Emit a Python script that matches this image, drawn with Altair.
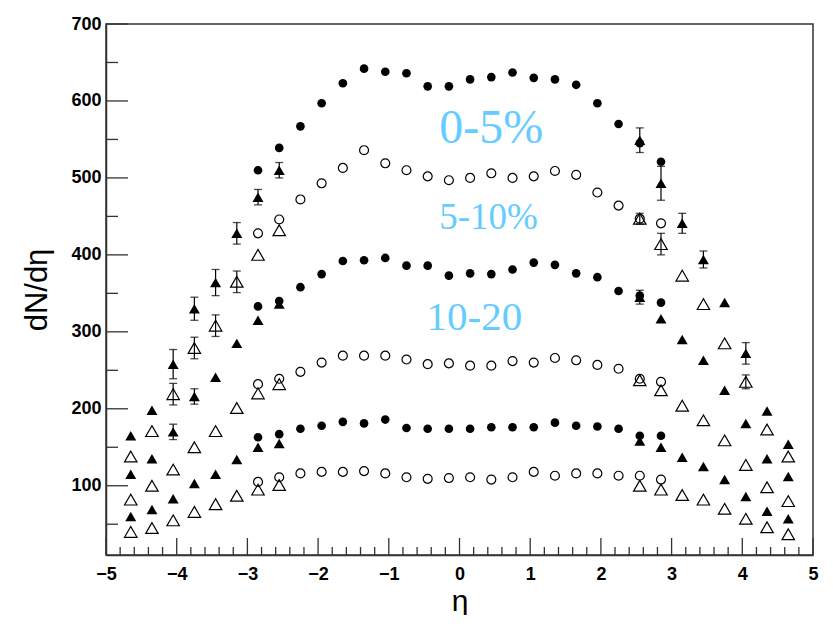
import altair as alt
import pandas as pd

# ---- data ----
eta_mid = [-2.85, -2.55, -2.25, -1.95, -1.65, -1.35, -1.05, -0.75, -0.45, -0.15,
           0.15, 0.45, 0.75, 1.05, 1.35, 1.65, 1.95, 2.25, 2.55, 2.85]
c0_5 = [510, 539, 567, 597, 623, 642, 638, 636, 619, 619, 628, 631, 637, 630, 628, 621, 597, 570, 545, 521]
c5_10 = [428, 446, 472, 493, 513, 536, 519, 510, 502, 497, 500, 506, 500, 502, 509, 504, 481, 464, 447, 441]
c10_20 = [333, 340, 358, 375, 392, 393, 396, 386, 386, 373, 376, 375, 381, 390, 387, 376, 371, 353, 347, 338]
c20_30 = [232, 239, 248, 260, 269, 269, 269, 264, 258, 259, 256, 256, 262, 260, 266, 263, 257, 252, 239, 235]
c30_40 = [163, 167, 174, 178, 183, 181, 186, 175, 174, 174, 174, 176, 176, 176, 182, 178, 177, 174, 165, 165]
c40_50 = [105, 111, 116, 118, 118, 119, 116, 111, 109, 110, 111, 108, 111, 118, 113, 116, 116, 113, 113, 108]

eta_fwd = [-4.65, -4.35, -4.05, -3.75, -3.45, -3.15, -2.85, -2.55,
           2.55, 2.85, 3.15, 3.45, 3.75, 4.05, 4.35, 4.65]
t0_5 = [165, 198, 258, 330, 364, 428, 475, 510, 549, 493, 441, 394, 338, 272, 197, 154]
e0_5 = [0, 0, 19, 15, 17, 14, 10, 10, 16, 22, 13, 11, 0, 14, 0, 0]
t5_10 = [138, 171, 219, 279, 308, 365, 400, 432, 447, 414, 373, 336, 285, 235, 173, 138]
e5_10 = [0, 0, 14, 14, 14, 14, 0, 0, 7, 14, 0, 0, 0, 9, 0, 0]
t10_20 = [115, 135, 170, 216, 241, 285, 315, 336, 345, 317, 290, 263, 224, 181, 135, 112]
e10_20 = [0, 0, 10, 10, 0, 0, 0, 0, 9, 0, 0, 0, 0, 0, 0, 0]
t20_30 = [82, 100, 121, 150, 171, 201, 220, 232, 237, 224, 204, 185, 159, 127, 98, 80]
t30_40 = [60, 69, 83, 103, 115, 134, 150, 155, 158, 150, 137, 125, 108, 86, 67, 57]
t40_50 = [40, 45, 55, 66, 76, 87, 95, 101, 100, 95, 88, 82, 70, 57, 46, 37]

x_major = [-5, -4, -3, -2, -1, 0, 1, 2, 3, 4, 5]
x_minor = [round(-5 + 0.2 * i, 1) for i in range(51) if i % 5 != 0]
y_major = [100, 200, 300, 400, 500, 600, 700]
y_minor = [50, 150, 250, 350, 450, 550, 650]

labels = ["0-5%", "5-10%", "10-20"]

# ---- tables ----
def mid(vals, filled):
    return pd.DataFrame({"eta": eta_mid, "v": vals, "filled": filled})

def fwd(vals, errs, filled):
    return pd.DataFrame({"eta": eta_fwd, "v": vals, "err": errs, "filled": filled})

zeros = [0] * len(eta_fwd)
circ = pd.concat([mid(c0_5, 1), mid(c5_10, 0), mid(c10_20, 1),
                  mid(c20_30, 0), mid(c30_40, 1), mid(c40_50, 0)])
tri = pd.concat([fwd(t0_5, e0_5, 1), fwd(t5_10, e5_10, 0), fwd(t10_20, e10_20, 1),
                 fwd(t20_30, zeros, 0), fwd(t30_40, zeros, 1), fwd(t40_50, zeros, 0)])
tri["lo"] = tri["v"] - tri["err"]
tri["hi"] = tri["v"] + tri["err"]
errs = tri[tri["err"] > 0]

W, H = 707, 531
xs = alt.Scale(domain=[-5, 5], nice=False, zero=False)
ys = alt.Scale(domain=[10, 700], nice=False, zero=False)

X = alt.X("eta:Q", scale=xs,
          axis=alt.Axis(values=x_major, ticks=False, grid=False, format="d", labelFlush=False,
                        labelFont="Liberation Sans", labelFontWeight="bold", labelFontSize=18,
                        labelColor="black", labelPadding=10, domainColor="#333", domainWidth=1.5,
                        title="η", titleFont="Liberation Sans", titleFontWeight="normal",
                        titleFontSize=30, titleColor="black", titlePadding=3))
Y = alt.Y("v:Q", scale=ys,
          axis=alt.Axis(values=y_major, ticks=False, grid=False, format="d", labelFlush=False,
                        labelFont="Liberation Sans", labelFontWeight="bold", labelFontSize=18,
                        labelColor="black", labelPadding=5, domainColor="#333", domainWidth=1.5,
                        title="dN/dη", titleFont="Liberation Sans", titleFontWeight="normal",
                        titleFontSize=31, titleColor="black", titlePadding=17))

base_c = alt.Chart(circ)
filled_c = base_c.transform_filter("datum.filled == 1").mark_point(
    shape="circle", filled=True, color="black", size=75, opacity=1).encode(x=X, y=Y)
open_c = base_c.transform_filter("datum.filled == 0").mark_point(
    shape="circle", filled=False, color="black", size=80, strokeWidth=1.2, opacity=1).encode(x=X, y=Y)

base_t = alt.Chart(tri)
filled_t = base_t.transform_filter("datum.filled == 1").mark_point(
    shape="triangle-up", filled=True, color="black", size=120, opacity=1).encode(x=X, y=Y)
open_t = base_t.transform_filter("datum.filled == 0").mark_point(
    shape="triangle-up", filled=False, color="black", size=155, strokeWidth=1.2, opacity=1).encode(x=X, y=Y)

err_rule = alt.Chart(errs).mark_rule(color="black", strokeWidth=1.2).encode(
    x=alt.X("eta:Q", scale=xs), y=alt.Y("lo:Q", scale=ys), y2="hi:Q")
err_lo = alt.Chart(errs).mark_tick(color="black", orient="horizontal", size=8, thickness=1.3).encode(
    x=alt.X("eta:Q", scale=xs), y=alt.Y("lo:Q", scale=ys))
err_hi = alt.Chart(errs).mark_tick(color="black", orient="horizontal", size=8, thickness=1.3).encode(
    x=alt.X("eta:Q", scale=xs), y=alt.Y("hi:Q", scale=ys))

# inward axis ticks
xmaj = alt.Chart(pd.DataFrame({"t": x_major})).mark_rule(color="#333", strokeWidth=1.3).encode(
    x=alt.X("t:Q", scale=xs), y=alt.value(H), y2=alt.value(H - 17))
xmin = alt.Chart(pd.DataFrame({"t": x_minor})).mark_rule(color="#333", strokeWidth=1.3).encode(
    x=alt.X("t:Q", scale=xs), y=alt.value(H), y2=alt.value(H - 8))
ymaj = alt.Chart(pd.DataFrame({"t": y_major})).mark_rule(color="#333", strokeWidth=1.3).encode(
    y=alt.Y("t:Q", scale=ys), x=alt.value(0), x2=alt.value(22))
ymin = alt.Chart(pd.DataFrame({"t": y_minor})).mark_rule(color="#333", strokeWidth=1.3).encode(
    y=alt.Y("t:Q", scale=ys), x=alt.value(0), x2=alt.value(12))

def label(txt, eta, val, size):
    return alt.Chart(pd.DataFrame({"a": [0]})).mark_text(
        text=txt, font="Liberation Serif, Times New Roman, serif", fontSize=size, color="#66CCFF",
        align="center", baseline="alphabetic").encode(x=alt.datum(eta, scale=xs), y=alt.datum(val, scale=ys))

t1 = label(labels[0], 0.45, 545, 48)
t2 = label(labels[1], 0.41, 434, 37)
t3 = label(labels[2], 0.21, 302, 41)

chart = alt.layer(
    xmaj, xmin, ymaj, ymin, err_rule, err_lo, err_hi,
    open_t, filled_t, open_c, filled_c, t1, t2, t3
).properties(
    width=W, height=H, background="white",
    padding={"left": 98, "top": 16, "right": 12, "bottom": 60},
    autosize=alt.AutoSizeParams(type="none")
).configure_view(stroke="#333", strokeWidth=1.5)

chart.save("out.html", embed_options={"renderer": "svg", "actions": False})
